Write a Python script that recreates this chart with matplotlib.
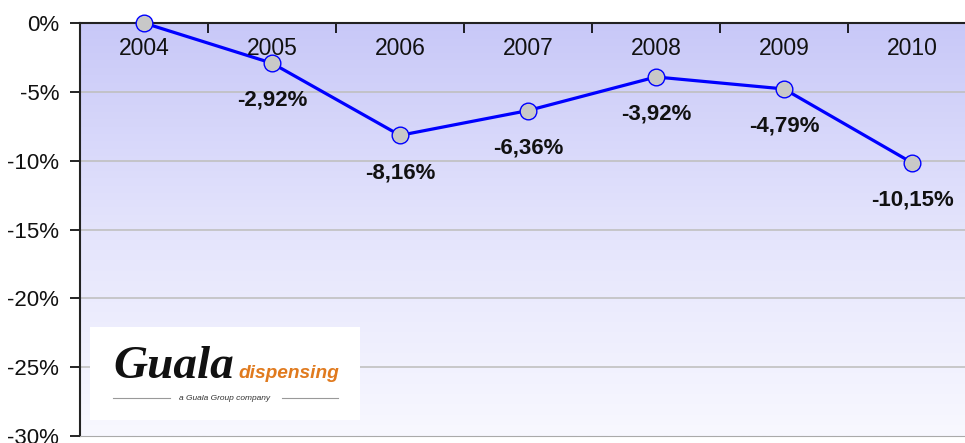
import numpy as np
import matplotlib.pyplot as plt
from matplotlib.patches import Rectangle
from matplotlib.colors import LinearSegmentedColormap

years = ['2004', '2005', '2006', '2007', '2008', '2009', '2010']
values = [0.0, -2.92, -8.16, -6.36, -3.92, -4.79, -10.15]
labels = ['', '-2,92%', '-8,16%', '-6,36%', '-3,92%', '-4,79%', '-10,15%']
yticks = [0, -5, -10, -15, -20, -25, -30]

plt.rcParams['font.family'] = ['Liberation Sans', 'DejaVu Sans']

fig = plt.figure(figsize=(9.65, 4.43), dpi=100)
ax = fig.add_axes([80 / 965, 1 - 436 / 443, 896 / 965, 413 / 443])

x = np.arange(len(years))
ax.set_xlim(-0.5, len(years) - 0.5)
ax.set_ylim(-30, 0)

# background gradient, lavender at top to almost white at bottom
cmap = LinearSegmentedColormap.from_list('bg', ['#f8f8ff', '#e4e4fc', '#c8c8f8'])
grad = np.linspace(0, 1, 256).reshape(-1, 1)
ax.imshow(grad, cmap=cmap, aspect='auto', origin='lower',
          extent=[-0.5, len(years) - 0.5, -30, 0], zorder=0)

for yv in yticks[1:-1]:
    ax.axhline(yv, color='#c0c0c0', lw=1.2, zorder=1)

ax.plot(x, values, color='#0000ff', lw=2.3, marker='o', ms=12,
        mfc='#c8c8c8', mec='#0000ff', mew=1, zorder=5, clip_on=False)

for xi, yi, lab in zip(x, values, labels):
    if lab:
        ax.text(xi, yi - 2.7, lab, ha='center', va='center', fontsize=16,
                fontweight='bold', color='#111111', zorder=6)

# year labels inside the plot, under the top axis
for xi, yr in zip(x, years):
    ax.text(xi, -1.85, yr, ha='center', va='center', fontsize=16.5,
            color='#111111', zorder=6)

ax.set_yticks(yticks)
ax.set_yticklabels([f'{v}%' for v in yticks], fontsize=16, color='#111111')
ax.tick_params(axis='y', direction='out', length=7, width=1.2, pad=8)

ax.set_xticks(np.arange(-0.5, len(years)))
ax.xaxis.set_ticks_position('top')
ax.set_xticklabels([])
ax.tick_params(axis='x', direction='in', length=7, width=1.2)

ax.spines['top'].set_linewidth(1.5)
ax.spines['top'].set_color('#222222')
ax.spines['left'].set_linewidth(1.5)
ax.spines['left'].set_color('#222222')
ax.spines['bottom'].set_color('#aaaaaa')
ax.spines['right'].set_visible(False)

# logo box
W, H = 965, 443
fig.patches.append(Rectangle((90 / W, 1 - 420 / H), 270 / W, 93 / H,
                             transform=fig.transFigure, facecolor='white',
                             edgecolor='none', zorder=3))
fig.text(113 / W, 1 - 378 / H, 'Guala', fontsize=34, fontweight='bold',
         fontstyle='italic', family='Liberation Serif', color='#111111',
         ha='left', va='baseline', zorder=4)
fig.text(238 / W, 1 - 378 / H, 'dispensing', fontsize=13.8, fontweight='bold',
         fontstyle='italic', color='#e07a1e', ha='left', va='baseline', zorder=4)
fig.text(225 / W, 1 - 398 / H, 'a Guala Group company', fontsize=6,
         fontstyle='italic', color='#333333', ha='center', va='center', zorder=4)
fig.lines.append(plt.Line2D([113 / W, 170 / W], [1 - 398 / H] * 2,
                            transform=fig.transFigure, color='#999999', lw=0.8, zorder=4))
fig.lines.append(plt.Line2D([282 / W, 338 / W], [1 - 398 / H] * 2,
                            transform=fig.transFigure, color='#999999', lw=0.8, zorder=4))

fig.savefig('out.png', dpi=100)
